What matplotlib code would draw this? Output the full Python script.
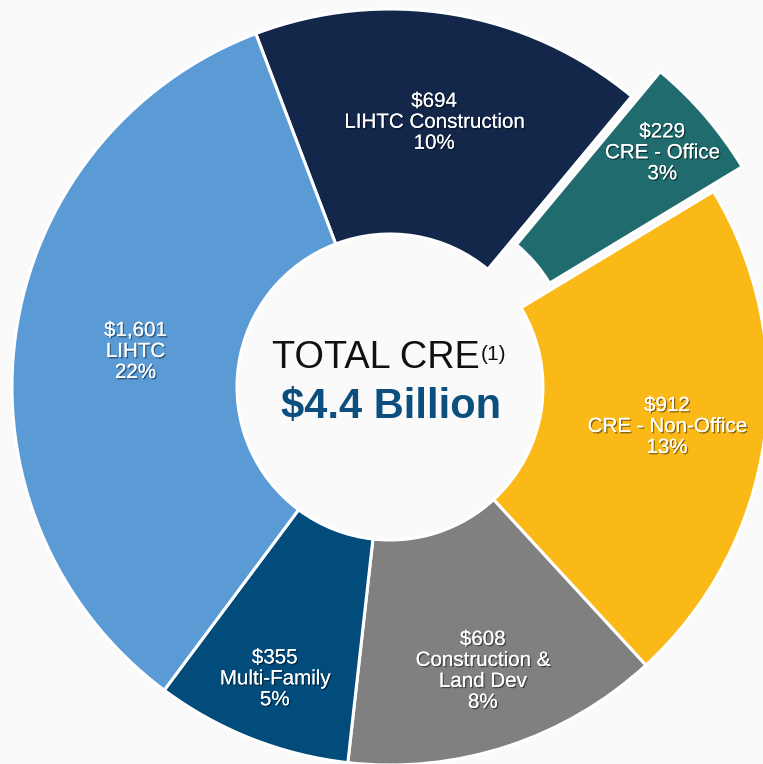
import math
import matplotlib
matplotlib.use("Agg")
import matplotlib.pyplot as plt
import matplotlib.patheffects as pe

# wedge order, clockwise from the top-left boundary
labels = ["LIHTC Construction", "CRE - Office", "CRE - Non-Office",
          "Construction &\nLand Dev", "Multi-Family", "LIHTC"]
amounts = ["$694", "$229", "$912", "$608", "$355", "$1,601"]
pct_of_loans = ["10%", "3%", "13%", "8%", "5%", "22%"]
# share of the ring each wedge takes in the picture (%)
ring_share = [16.8, 5.3, 21.8, 13.6, 8.4, 34.0]
colors = ["#13274a", "#1f6b6d", "#fbb917", "#808080", "#024c7c", "#5b9bd5"]
explode = [0, 0.1, 0, 0, 0, 0]
label_radius = [0.71, 0.85, 0.74, 0.79, 0.83, 0.68]

W, H = 763, 764
CX, CY, R = 390, 387, 378
BG = "#fafafa"

plt.rcParams["font.family"] = ["Liberation Sans", "DejaVu Sans"]

fig = plt.figure(figsize=(W / 100, H / 100), dpi=100, facecolor=BG)
ax = fig.add_axes([0, 0, 1, 1])
ax.set_facecolor(BG)

wedges, _ = ax.pie(ring_share, colors=colors, explode=explode, startangle=110.8,
                   counterclock=False, radius=1,
                   wedgeprops=dict(width=1 - 153 / R, edgecolor="white", linewidth=2.2))

# pie() resets the limits, so set them afterwards
ax.set_xlim(-CX / R, (W - CX) / R)
ax.set_ylim(-(H - CY) / R, CY / R)
ax.set_aspect("equal")
ax.axis("off")

shadow = [pe.withSimplePatchShadow(offset=(1, -1), shadow_rgbFace="black", alpha=0.45),
          pe.Normal()]
for w, amt, lab, pct, rr in zip(wedges, amounts, labels, pct_of_loans, label_radius):
    mid = math.radians((w.theta1 + w.theta2) / 2)
    cx, cy = w.center
    ax.text(cx + rr * math.cos(mid), cy + rr * math.sin(mid), f"{amt}\n{lab}\n{pct}",
            ha="center", va="center", color="white", fontsize=14.8,
            linespacing=1.13, path_effects=shadow)

fig.text(272 / W, 1 - 368 / H, "TOTAL CRE", ha="left", va="baseline",
         fontsize=27.3, color="#111111")
fig.text(481 / W, 1 - 360 / H, "(1)", ha="left", va="baseline",
         fontsize=15, color="#111111")
fig.text(391 / W, 1 - 418 / H, "$4.4 Billion", ha="center", va="baseline",
         fontsize=30, fontweight="bold", color="#0c4e7e")

fig.savefig("out.png", dpi=100, facecolor=BG)
